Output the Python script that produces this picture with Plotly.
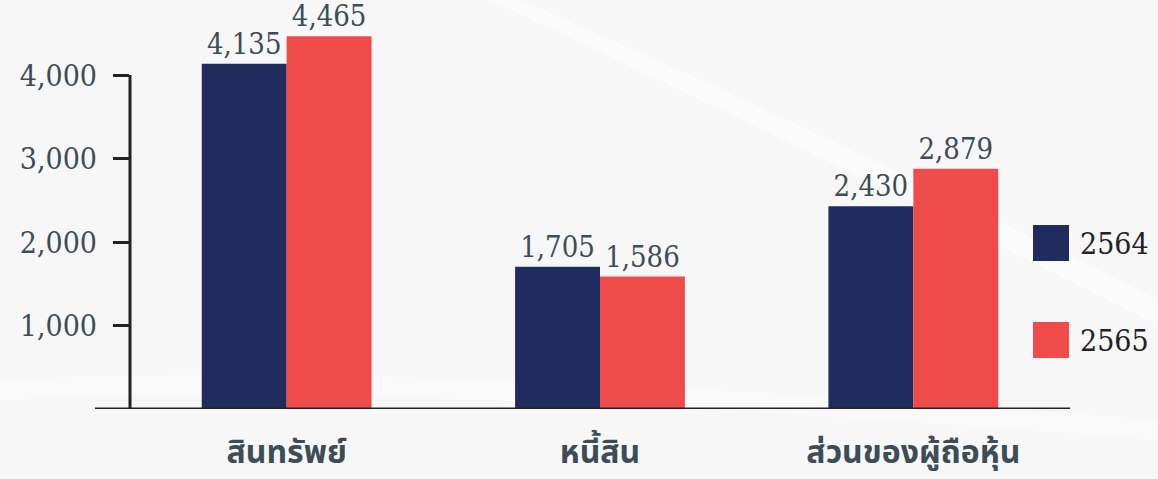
import plotly.graph_objects as go

categories = ["สินทรัพย์", "หนี้สิน", "ส่วนของผู้ถือหุ้น"]
series_names = ["2564", "2565"]
values_2564 = [4135, 1705, 2430]
values_2565 = [4465, 1586, 2879]
tick_values = [1000, 2000, 3000, 4000]
tick_labels = ["1,000", "2,000", "3,000", "4,000"]

NAVY = "#212c5e"
RED = "#ef4b4b"
TXT = "#3d4d58"
AX = "#222222"
BG = "#f7f7f7"
NUMFONT = "DejaVu Serif Condensed"

fig = go.Figure()
for name, vals, col in [(series_names[0], values_2564, NAVY), (series_names[1], values_2565, RED)]:
    fig.add_trace(go.Bar(
        x=categories, y=vals, name=name, marker=dict(color=col, line=dict(width=0)),
        texttemplate="%{y:,}", textposition="outside", cliponaxis=False,
        constraintext="none",
        textfont=dict(family=NUMFONT, size=29, color=TXT),
        showlegend=False,
    ))

W, H = 1158, 479
L, R, T, B = 130, 88, 0, 70
pw = W - L - R
ph = H - T - B

def px(x):
    return (x - L) / pw

def py(y):
    return (H - B - y) / ph

shapes = []
# background swooshes
shapes.append(dict(type="path", xref="paper", yref="paper", layer="below",
                   path=f"M {px(520)} {py(0)} Q {px(800)} {py(120)} {px(1158)} {py(300)} L {px(1158)} {py(325)} Q {px(800)} {py(145)} {px(490)} {py(0)} Z",
                   fillcolor="rgba(255,255,255,0.5)", line=dict(width=0)))
shapes.append(dict(type="path", xref="paper", yref="paper", layer="below",
                   path=f"M {px(0)} {py(380)} Q {px(400)} {py(360)} {px(1158)} {py(420)} L {px(1158)} {py(440)} Q {px(400)} {py(380)} {px(0)} {py(400)} Z",
                   fillcolor="rgba(255,255,255,0.3)", line=dict(width=0)))
# x axis line (extends left of y axis)
shapes.append(dict(type="line", xref="paper", yref="y", x0=px(95), x1=1, y0=0, y1=0,
                   line=dict(color=AX, width=3), layer="above"))
# y axis line up to the highest tick
shapes.append(dict(type="line", xref="paper", yref="y", x0=0, x1=0, y0=0, y1=max(tick_values),
                   line=dict(color=AX, width=3), layer="above"))
# manual legend squares
leg_y = [243, 340]
for i, col in enumerate([NAVY, RED]):
    shapes.append(dict(type="rect", xref="paper", yref="paper",
                       x0=px(1033), x1=px(1069), y0=py(leg_y[i] - 18), y1=py(leg_y[i] + 18),
                       fillcolor=col, line=dict(width=0)))

annotations = []
for i, name in enumerate(series_names):
    annotations.append(dict(xref="paper", yref="paper", x=px(1078), y=py(leg_y[i]),
                            text=name, showarrow=False, xanchor="left", yanchor="middle",
                            font=dict(family=NUMFONT, size=30, color=AX)))

fig.update_layout(
    width=W, height=H,
    margin=dict(l=L, r=R, t=T, b=B, pad=0),
    paper_bgcolor=BG, plot_bgcolor="rgba(0,0,0,0)",
    barmode="group", bargap=0.458, bargroupgap=0,
    shapes=shapes, annotations=annotations,
    xaxis=dict(type="category", range=[-0.5, 2.5], showline=False, ticks="",
               showgrid=False, zeroline=False,
               tickfont=dict(family="Noto Sans Thai, Noto Sans, sans-serif", size=32,
                             color=TXT, weight="bold"),
               ticklabelstandoff=21),
    yaxis=dict(range=[0, 4900], showline=False, showgrid=False, zeroline=False,
               ticks="outside", ticklen=16, tickwidth=3, tickcolor=AX,
               tickvals=tick_values, ticktext=tick_labels,
               tickfont=dict(family=NUMFONT, size=30, color=TXT),
               ticklabelstandoff=10),
)

fig.write_html(
    "out.html",
    config={"displayModeBar": False},
    post_script=f"document.body.style.margin='0';document.body.style.padding='0';"
                f"document.body.style.background='{BG}';document.body.style.overflow='hidden';",
)
